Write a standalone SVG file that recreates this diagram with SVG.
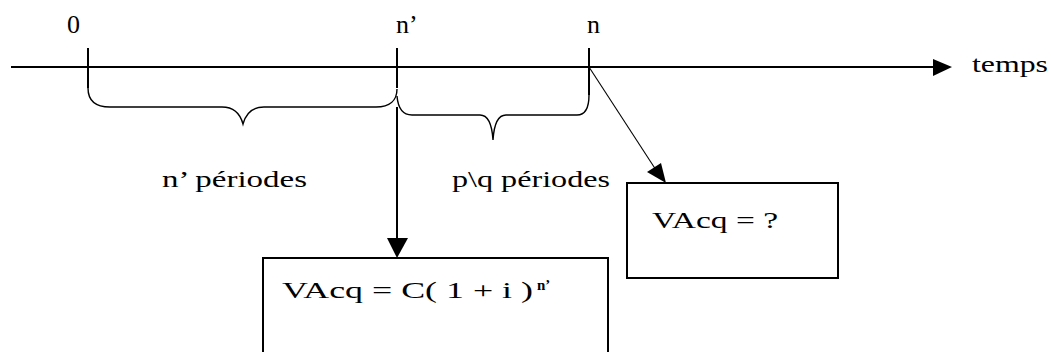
<svg xmlns="http://www.w3.org/2000/svg" width="1051" height="352" viewBox="0 0 1051 352">
  <style>
    .lbl { font-size: 26px; }
    .per { font-size: 24px; }
    .box { fill: #fff; stroke: #000; stroke-width: 2; }
    .axis { stroke: #000; stroke-width: 2; fill: none; }
    .brace { stroke: #000; stroke-width: 1.4; fill: none; }
    .thin { stroke: #000; stroke-width: 1.1; fill: none; }
  </style>

  <g font-family="'Liberation Serif', 'DejaVu Serif', serif" fill="#000">
  <g id="timeline">
    <line class="axis" x1="11" y1="67" x2="934" y2="67"/>
    <path d="M933,59 L952,67 L933,76 Z" fill="#000"/>
    <line class="axis" x1="88" y1="48" x2="88" y2="88"/>
    <line class="axis" x1="397" y1="48" x2="397" y2="88"/>
    <line class="axis" x1="589" y1="48" x2="589" y2="95"/>
    <text class="lbl" x="67" y="33">0</text>
    <text class="lbl" x="396" y="33">n’</text>
    <text class="lbl" x="587" y="33">n</text>
    <text class="per" x="972" y="72" textLength="76" lengthAdjust="spacingAndGlyphs">temps</text>
  </g>

  <g id="brace1">
    <path class="brace" d="M88,88 C88,100 95,107 110,107 L222,107 C233,107 240,113 243,124 C246,113 253,107 264,107 L376,107 C390,107 397,100 397,89"/>
    <text class="per" x="162" y="187" textLength="145" lengthAdjust="spacingAndGlyphs">n’ périodes</text>
  </g>

  <g id="brace2">
    <path class="brace" d="M397,96 C398,108 402,115 412,115 L480,115 C488,115 492,124 493,140 C494,124 498,115 506,115 L577,115 C585,115 589,108 589,95"/>
    <text class="per" x="452" y="187" textLength="158" lengthAdjust="spacingAndGlyphs">p\q périodes</text>
  </g>

  <g id="connectors">
    <line class="axis" x1="397" y1="107" x2="397" y2="240"/>
    <path d="M387,238 L408,238 L397,258 Z" fill="#000"/>
    <line class="thin" x1="589" y1="67" x2="656" y2="170"/>
    <path d="M647,172 L661,163 L666,183 Z" fill="#000"/>
  </g>

  <g id="box1">
    <rect class="box" x="263" y="258" width="345" height="110"/>
    <text class="per" x="282" y="298" textLength="251" lengthAdjust="spacingAndGlyphs">VAcq = C( 1 + i )</text>
    <text x="537" y="290" font-size="15" font-weight="bold">n’</text>
  </g>

  <g id="box2">
    <rect class="box" x="627" y="183" width="211" height="95"/>
    <text class="per" x="652" y="228" textLength="126" lengthAdjust="spacingAndGlyphs">VAcq = ?</text>
  </g>
  </g>
</svg>
